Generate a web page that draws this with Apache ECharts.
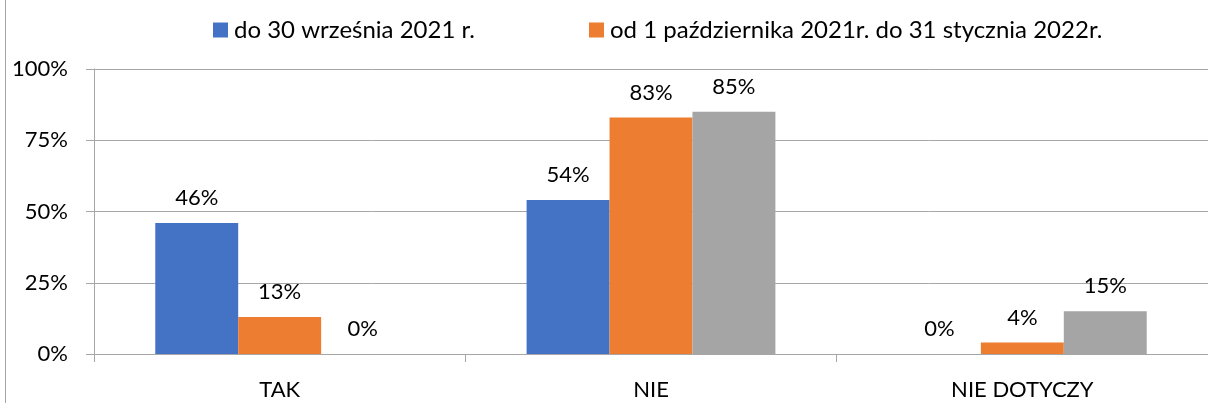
<!DOCTYPE html>
<html lang="pl">
<head>
    <meta charset="UTF-8">
    <title>Wykres</title>
    <script src="https://cdn.jsdelivr.net/npm/echarts@6/dist/echarts.min.js"></script>
    <style>
        body{margin:0;background:#fff;}
    </style>
</head>
<body>
<div id="main" style="width:1208px;height:403px"></div>
<script>
    var categories=['TAK','NIE','NIE DOTYCZY'];
    var seriesNames=['do 30 września 2021 r.','od 1 października 2021r. do 31 stycznia 2022r.',''];
    var blueValues=[46,54,0];
    var orangeValues=[13,83,4];
    var grayValues=[0,85,15];
    var colors=['#4472c4','#ed7d31','#a5a5a5'];
    var yTicks=[0,25,50,75,100];

    var font='Lato';
    var myCharts=echarts.init(document.getElementById('main'));

    function makeSeries(name,values,color){
        return {
            name:name,
            type:'bar',
            data:values,
            barGap:'0%',
            barCategoryGap:'33%',
            itemStyle:{color:color},
            label:{
                show:true,
                position:'top',
                distance:14,
                formatter:'{c}%',
                color:'#000',
                fontFamily:font,
                fontSize:22
            }
        };
    }

    var legendText={fontSize:24,color:'#000',fontFamily:font,padding:[0,0,0,1]};

    var option={
        animation:false,
        textStyle:{fontFamily:font},
        legend:[{
            data:[seriesNames[0]],
            left:208,
            top:13,
            itemWidth:15,
            itemHeight:15,
            icon:'rect',
            textStyle:legendText
        },{
            data:[seriesNames[1]],
            left:584,
            top:13,
            itemWidth:15,
            itemHeight:15,
            icon:'rect',
            textStyle:legendText
        }],
        grid:{
            left:94,
            top:69,
            right:-2,
            bottom:49,
            containLabel:false
        },
        graphic:[{
            type:'line',
            shape:{x1:5.5,y1:0,x2:5.5,y2:403},
            style:{stroke:'#a6a6a6',lineWidth:1}
        }],
        xAxis:{
            type:'category',
            data:categories,
            axisLine:{show:true,lineStyle:{color:'#a6a6a6'}},
            axisTick:{show:true,length:8,lineStyle:{color:'#a6a6a6'}},
            axisLabel:{fontSize:22,color:'#000',fontFamily:font,margin:25}
        },
        yAxis:{
            type:'value',
            min:yTicks[0],
            max:yTicks[yTicks.length-1],
            interval:25,
            axisLine:{show:true,lineStyle:{color:'#a6a6a6'}},
            axisTick:{show:true,length:8,lineStyle:{color:'#a6a6a6'}},
            splitLine:{show:true,lineStyle:{color:'#a6a6a6'}},
            axisLabel:{formatter:'{value}%',fontSize:22,color:'#000',fontFamily:font,margin:26}
        },
        series:[
            makeSeries(seriesNames[0],blueValues,colors[0]),
            makeSeries(seriesNames[1],orangeValues,colors[1]),
            makeSeries(seriesNames[2],grayValues,colors[2])
        ]
    };
    myCharts.setOption(option);
</script>
</body>
</html>
